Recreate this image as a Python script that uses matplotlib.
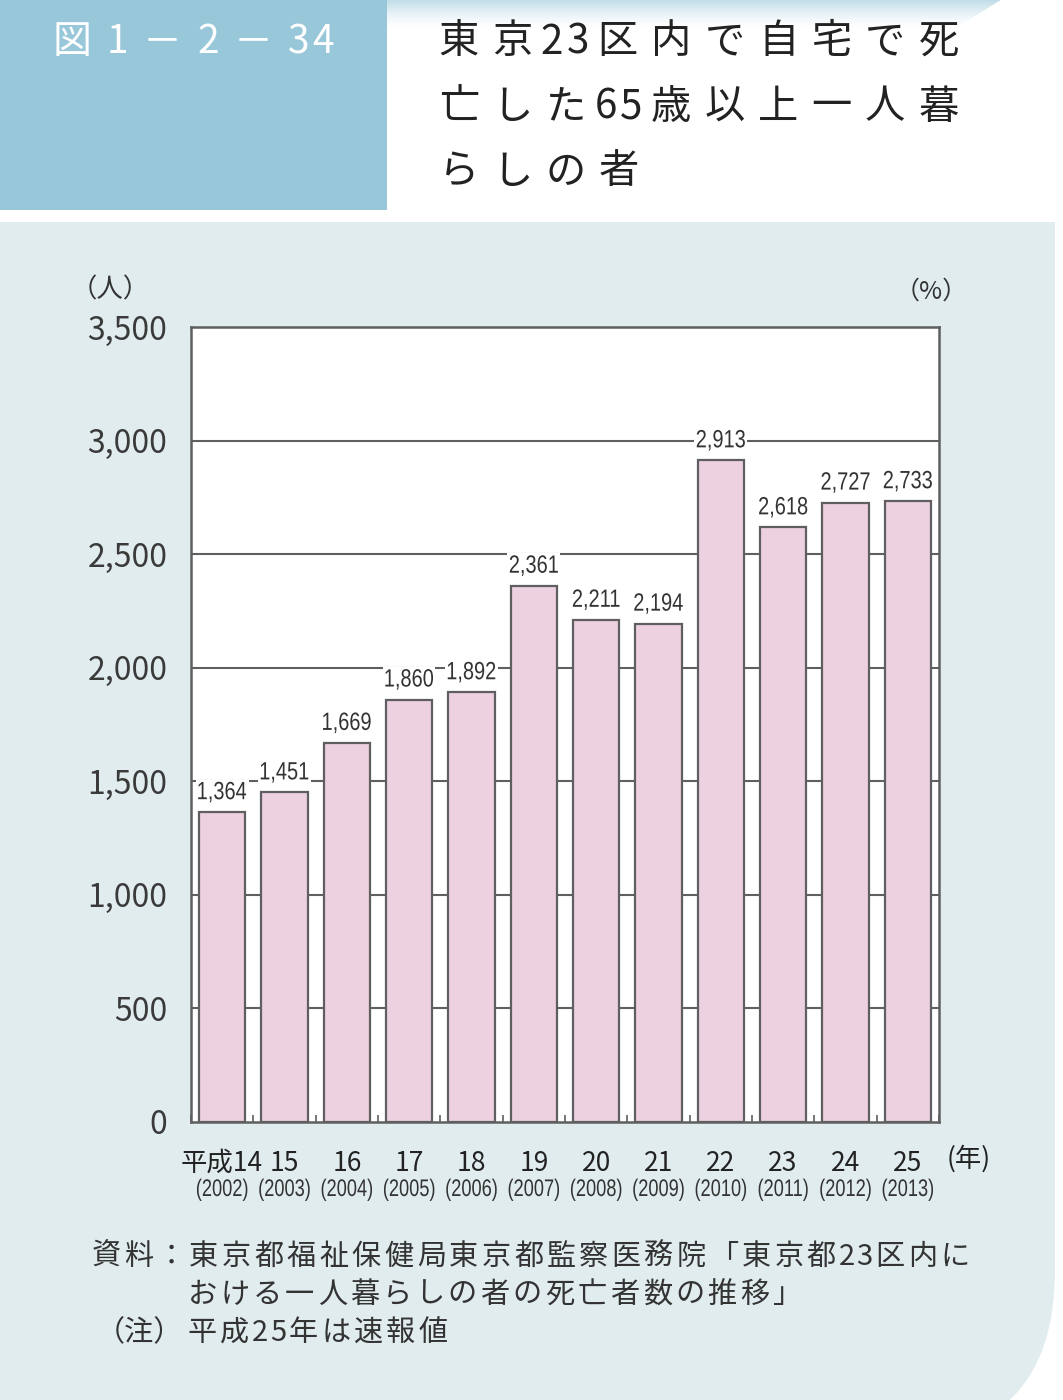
import numpy as np
import matplotlib.pyplot as plt
import matplotlib.transforms as mtrans
from matplotlib.patches import Rectangle, FancyBboxPatch, PathPatch
from matplotlib.textpath import TextPath
from matplotlib.font_manager import FontProperties

plt.rcParams['font.family'] = ['Noto Sans CJK JP', 'DejaVu Sans']

# data
years_jp = ['平成14', '15', '16', '17', '18', '19', '20', '21', '22', '23', '24', '25']
years_ad = ['(2002)', '(2003)', '(2004)', '(2005)', '(2006)', '(2007)',
            '(2008)', '(2009)', '(2010)', '(2011)', '(2012)', '(2013)']
deaths = [1364, 1451, 1669, 1860, 1892, 2361, 2211, 2194, 2913, 2618, 2727, 2733]
yticks = [0, 500, 1000, 1500, 2000, 2500, 3000, 3500]

W, H = 1063, 1400
panel_col = '#e1ecef'
head_col = '#98c7da'
bar_col = '#edd1e1'
line_col = '#5f5f5f'
txt_col = '#333333'
narrow_font = FontProperties(family=['Liberation Sans', 'DejaVu Sans'])

fig = plt.figure(figsize=(W / 100, H / 100), dpi=100)
fig.patch.set_facecolor('white')

# background / decoration layer, pixel coords
bg = fig.add_axes([0, 0, 1, 1])
bg.set_xlim(0, W)
bg.set_ylim(H, 0)
bg.axis('off')


def spaced(x0, y, s, full, half, **kw):
    # put characters one by one, wide spacing like the print layout
    xc = x0
    for ch in s:
        adv = half if ch.isascii() else full
        bg.text(xc + adv / 2, y, ch, ha='center', va='center', **kw)
        xc += adv


def condensed(target_ax, xd, yd, trans, s, size, sx, dy, box=False, z=3):
    # narrow text: a text path squeezed sideways, anchored at (xd, yd) in trans
    tp = TextPath((0, 0), s, size=size, prop=narrow_font)
    ext = tp.get_extents()
    tr = (mtrans.Affine2D().translate(-(ext.x0 + ext.width / 2), 0)
          .scale(sx, 1).translate(0, dy)
          + mtrans.ScaledTranslation(xd, yd, trans))
    if box:
        target_ax.add_patch(Rectangle((ext.x0 - 3, ext.y0 - 2), ext.width + 6,
                                      ext.height + 4, transform=tr, fc='white',
                                      ec='none', zorder=z - 0.5, clip_on=False))
    target_ax.add_patch(PathPatch(tp, transform=tr, fc=txt_col, ec='none',
                                  lw=0, zorder=z, clip_on=False))


# light panel with rounded bottom right corner
bg.add_patch(FancyBboxPatch((-300, 222), W - 8 + 300, H - 222 + 40,
                            boxstyle='round,pad=0,rounding_size=170',
                            fc=panel_col, ec='none'))
bg.add_patch(Rectangle((-300, 222), W - 8 + 300, 400, fc=panel_col, ec='none'))
# light band at the top of the header
for i in range(28):
    bg.add_patch(Rectangle((0, i), 1000 - i * 1.6, 1, fc=head_col, ec='none',
                           alpha=0.6 * (1 - i / 28) ** 1.5))
# blue title box
bg.add_patch(Rectangle((0, 0), 387, 210, fc=head_col, ec='none'))
spaced(38, 42, '図1－2－34', 67, 24, fontsize=28, color='white')

title_lines = ['東京23区内で自宅で死', '亡した65歳以上一人暮', 'らしの者']
for k, t in enumerate(title_lines):
    spaced(432, 42 + k * 65, t, 53.5, 26, fontsize=29, color='#222222')

bg.text(150, 290, '（人）', fontsize=19, color=txt_col, ha='right', va='center')
bg.text(968, 292, '（%）', fontsize=18, color=txt_col, ha='right', va='center')

spaced(90, 1257, '資料：東京都福祉保健局東京都監察医務院「東京都23区内に', 32.5, 18,
       fontsize=21, color=txt_col)
spaced(186, 1295, 'おける一人暮らしの者の死亡者数の推移」', 32.5, 18,
       fontsize=21, color=txt_col)
bg.text(183, 1333, '（注）', fontsize=21, color=txt_col, ha='right', va='center')
spaced(186, 1333, '平成25年は速報値', 32.5, 18, fontsize=21, color=txt_col)

# chart
ax = fig.add_axes([191 / W, (H - 1122) / H, (939 - 191) / W, (1122 - 327) / H])
ax.set_facecolor('white')
x = np.arange(len(deaths))
ax.bar(x, deaths, width=0.74, color=bar_col, edgecolor=line_col, linewidth=1.6,
       zorder=2)
ax.set_xlim(-0.5, len(deaths) - 0.5)
ax.set_ylim(0, 3500)
ax.set_yticks(yticks)
ax.set_yticklabels([f'{v:,}' for v in yticks], fontsize=23, color='#3a3a3a')
for v in yticks[1:-1]:
    ax.axhline(v, color=line_col, linewidth=1.5, zorder=1)

for i, v in enumerate(deaths):
    condensed(ax, i, v, ax.transData, f'{v:,}', 25, 0.8, 13, box=True)

ax.set_xticks(x)
ax.set_xticklabels(years_jp, fontsize=19, color='#222222')
ax.set_xticks(np.arange(len(deaths) + 1) - 0.5, minor=True)
ax.tick_params(axis='x', which='major', length=0, pad=20)
ax.tick_params(axis='x', which='minor', direction='in', length=5,
               color=line_col, width=1.2)
ax.tick_params(axis='y', length=0, pad=17)

tr = mtrans.blended_transform_factory(ax.transData, ax.transAxes)
for i, t in enumerate(years_ad):
    condensed(ax, i, 0, tr, t, 24, 0.76, -74)
ax.text(len(deaths) - 0.38, -0.047, '(年)', transform=tr, ha='left', va='center',
        fontsize=19, color='#222222')

for s in ax.spines.values():
    s.set_color(line_col)
    s.set_linewidth(1.8)

fig.savefig('out.png', dpi=100)
